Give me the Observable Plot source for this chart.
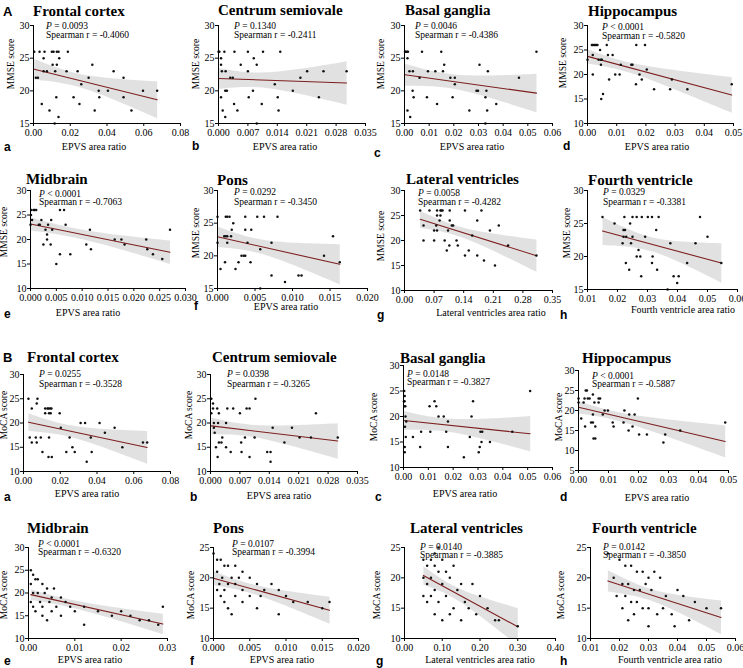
<!DOCTYPE html>
<html><head><meta charset="utf-8">
<script src="https://cdn.jsdelivr.net/npm/d3@7"></script>
<script src="https://cdn.jsdelivr.net/npm/@observablehq/plot@0.6"></script>
<style>
body{margin:0;background:#fff;}
#wrap{position:relative;width:743px;height:668px;overflow:hidden;font-family:"Liberation Serif","Times New Roman",serif;color:#000;}
.t{position:absolute;white-space:nowrap;line-height:1;font-family:"Liberation Serif","Times New Roman",serif;}
.title{font-weight:bold;font-size:15px;transform:translateY(-50%);}
.letter{font-family:"Liberation Sans",Arial,sans-serif;font-weight:bold;font-size:12px;transform:translateY(-50%);}
.big{font-family:"Liberation Sans",Arial,sans-serif;font-weight:bold;font-size:13px;transform:translateY(-50%);}
.stat{font-size:9.5px;transform:translateY(-50%);}
.xl{font-size:10px;transform:translate(-50%,-50%);}
.yl{font-size:9.5px;transform:translate(-50%,-50%) rotate(-90deg);}
</style></head><body><div id="wrap"></div><script>
// ---------- DATA ----------
const regions = ["Frontal cortex","Centrum semiovale","Basal ganglia","Hippocampus","Midbrain","Pons","Lateral ventricles","Fourth ventricle"];
const panelLetters = ["a","b","c","d","e","f","g","h"];
const xTitles = ["EPVS area ratio","EPVS area ratio","EPVS area ratio","EPVS area ratio","EPVS area ratio","EPVS area ratio","Lateral ventricles area ratio","Fourth ventricle area ratio"];
const mmseP = ["P = 0.0093","P = 0.1340","P = 0.0046","P < 0.0001","P < 0.0001","P = 0.0292","P = 0.0058","P = 0.0329"];
const mmseR = ["-0.4060","-0.2411","-0.4386","-0.5820","-0.7063","-0.3450","-0.4282","-0.3381"];
const mocaP = ["P = 0.0255","P = 0.0398","P = 0.0148","P < 0.0001","P < 0.0001","P = 0.0107","P = 0.0140","P = 0.0142"];
const mocaR = ["-0.3528","-0.3265","-0.3827","-0.5887","-0.6320","-0.3994","-0.3885","-0.3850"];

// MMSE panels
const fcMmseX = [0.0004,0.0033,0.006,0.010,0.0109,0.0127,0.0136,0.0187, 0.0055,0.014, 0.0104,0.0127,0.032, 0.0055,0.0073,0.0118,0.018,0.024,0.0436, 0.0013,0.0024,0.030,0.049, 0.026, 0.0355,0.0405,0.0596,0.0673, 0.0124,0.0218,0.0358,0.049, 0.0045,0.025, 0.0087,0.0333,0.0533, 0.0136, 0.0115];
const fcMmseY = [26,26,26,26,26,26,26,26, 25,25, 24,24,24, 23,23,23,23,23,23, 22,22,22,22, 21, 20,20,20,20, 19,19,19,19, 18,18, 17,17,17, 16, 15];
const csMmseX = [0,0.0002,0.0014,0.0038,0.007,0.0106,0.0147, 0.0006,0.0084, 0.0006,0.0053,0.0091, 0.0008,0.0017,0.007,0.0211,0.025,0.0305, 0.0028,0.0034,0.0195, 0.0134, 0.0016,0.002,0.0082,0.0177, 0.0006,0.0072,0.0141,0.0239, 0.0037,0.0103, 0.001,0.0045,0.0143, 0.0016, 0.0091];
const csMmseY = [26,26,26,26,26,26,26, 25,25, 24,24,24, 23,23,23,23,23,23, 22,22,22, 21, 20,20,20,20, 19,19,19,19, 18,18, 17,17,17, 16, 15];
const bgMmseX = [0.0002,0.0005,0.001,0.0014,0.0071,0.0149,0.0535, 0.0012, 0.0161,0.0304, 0.002,0.0034,0.0095,0.0125,0.0156,0.0338, 0.0061,0.0186,0.0204,0.0464, 0.0204, 0.0033,0.0292,0.0298,0.0332, 0.0037,0.0091,0.0195,0.0328, 0.0132,0.0372, 0.0012,0.0263,0.0335, 0.0023, 0.0328];
const bgMmseY = [26,26,26,26,26,26,26, 25, 24,24, 23,23,23,23,23,23, 22,22,22,22, 21, 20,20,20,20, 19,19,19,19, 18,18, 17,17,17, 16, 15];
const hiMmseX = [0.0015,0.0018,0.0023,0.0026,0.003,0.0034,0.0066,0.0167,0.0197, 0.0043, 0.0018,0.007,0.0086, 0.0,0.0038,0.0046,0.0049, 0.0046,0.0114,0.015,0.0154, 0.0203, 0.0018,0.0095,0.011,0.0178, 0.0074,0.0186,0.0289, 0.0166,0.0494, 0.0228,0.0283,0.0342, 0.0053, 0.0047];
const hiMmseY = [26,26,26,26,26,26,26,26,26, 25, 24,24,24, 23,23,23,23, 22,22,22,22, 21, 20,20,20,20, 19,19,19, 18,18, 17,17,17, 16, 15];
const mbMmseX = [0.0002,0.00065,0.0008,0.0011,0.0057,0.0065, 0.0001, 0.0003,0.0021,0.004, 0.0,0.0016,0.0018,0.0034,0.0068, 0.0029,0.0042,0.0115,0.027, 0.0032, 0.0032,0.0163,0.0176,0.0224, 0.0025,0.0039,0.0108,0.0182, 0.0117,0.0226, 0.0057,0.0077,0.0237, 0.0255, 0.005];
const mbMmseY = [26,26,26,26,26,26, 25, 24,24,24, 23,23,23,23,23, 22,22,22,22, 21, 20,20,20,20, 19,19,19,19, 18,18, 17,17,17, 16, 15];
const poMmseX = [0,0.0011,0.0013,0.0016,0.0037,0.0053,0.0062,0.008, 0.0021, 0.0019,0.0037,0.0045, 0.0009,0.0011,0.0013,0.0018,0.0154, 0,0.0013,0.004,0.0072, 0.0057, 0.0032,0.0035,0.0037,0.0142, 0.001,0.0028,0.0044,0.0163, 0.0004,0.0024, 0.0072,0.0108,0.0112, 0.009, 0.0057];
const poMmseY = [26,26,26,26,26,26,26,26, 25, 24,24,24, 23,23,23,23,23, 22,22,22,22, 21, 20,20,20,20, 19,19,19,19, 18,18, 17,17,17, 16, 15];
const lvMmseX = [0.037,0.059,0.077,0.085,0.087,0.09,0.107,0.143,0.182, 0.077,0.085, 0.083,0.107,0.172, 0.045,0.075,0.112,0.115,0.223, 0.07,0.077,0.103,0.202, 0.16, 0.045,0.07,0.095,0.123, 0.106,0.126,0.245, 0.1,0.152, 0.143,0.172,0.312, 0.188, 0.214];
const lvMmseY = [26,26,26,26,26,26,26,26,26, 25,25, 24,24,24, 23,23,23,23,23, 22,22,22,22, 21, 20,20,20,20, 19,19,19, 18,18, 17,17,17, 16, 15];
const fvMmseX = [0.015,0.0223,0.025,0.0264,0.0281,0.0301,0.0315,0.0337,0.0475, 0.019,0.0242, 0.022,0.0225,0.0329, 0.022,0.0229,0.025,0.0292,0.05, 0.0217,0.0245,0.0376,0.046, 0.027, 0.0264,0.0276,0.0317, 0.0228,0.0315,0.0432,0.0546, 0.0239,0.0332, 0.0279,0.0387,0.0404, 0.0399, 0.0367];
const fvMmseY = [26,26,26,26,26,26,26,26,26, 25,25, 24,24,24, 23,23,23,23,23, 22,22,22,22, 21, 20,20,20, 19,19,19,19, 18,18, 17,17,17, 16, 15];

// MoCA panels
const fcMocaX = [0.0027,0.0076, 0.0072, 0.0045,0.0118,0.013,0.0136,0.0145,0.0152, 0.0118,0.0139,0.0148,0.0197, 0.0311,0.0335,0.0414, 0.0203,0.0496, 0.0443, 0.0034,0.0067,0.0094,0.0139,0.0251,0.0366, 0.0045,0.0072,0.065,0.0673, 0.0266,0.0538, 0.0103,0.0233,0.0279,0.0371, 0.0136,0.0154, 0.0344];
const fcMocaY = [25,25, 24, 23,23,23,23,23,23, 22,22,22,22, 20,20,20, 19,19, 18, 17,17,17,17,17,17, 16,16,16,16, 15,15, 14,14,14,14, 13,13, 12];
const csMocaX = [0.0002,0.0107, 0.0006, 0.0006,0.0016,0.004,0.0054,0.0086,0.0093, 0.0002,0.002,0.007,0.0251, 0.0008,0.0018,0.0037, 0.0008,0.0148,0.0194, 0.001, 0.0028,0.0082,0.0105,0.0212,0.0239,0.0303, 0.002,0.0026,0.0073,0.0176, 0.0013,0.0037, 0.0048,0.0074,0.0135,0.0143, 0.0017,0.0093, 0.0143];
const csMocaY = [25,25, 24, 23,23,23,23,23,23, 22,22,22,22, 20,20,20, 19,19,19, 18, 17,17,17,17,17,17, 16,16,16,16, 15,15, 14,14,14,14, 13,13, 12];
const bgMocaX = [0.0003,0.051, 0.0005, 0.0002,0.0004,0.0125,0.028, 0.0004,0.0007,0.0105,0.0132, 0.0008,0.0141,0.0162,0.0274, 0.0011,0.0179, 0.0006, 0.0071,0.0108,0.0172,0.031,0.0317,0.0438, 0.0009,0.0038,0.0267, 0.0314,0.0348, 0.0005,0.0067,0.0179,0.0307, 0.0005,0.0303, 0.0243];
const bgMocaY = [25,25, 24, 23,23,23,23, 22,22,22,22, 20,20,20,20, 19,19, 18, 17,17,17,17,17,17, 16,16,16, 15,15, 14,14,14,14, 13,13, 12];
const hiMocaX = [0.0024,0.0028, 0.0048, 0.0,0.002,0.0031,0.0037,0.0067,0.0072,0.0198, 0.0,0.0017,0.0053,0.0067, 0.0087,0.0098,0.0153, 0.0048,0.0081,0.0169,0.0187, 0.0009, 0.0042,0.0048,0.0114,0.015,0.0489, 0.0022,0.0056,0.0117,0.018, 0.0167,0.0339, 0.0202,0.0228,0.0289, 0.005,0.0056, 0.0283];
const hiMocaY = [25,25, 24, 23,23,23,23,23,23,23, 22,22,22,22, 20,20,20, 19,19,19,19, 18, 17,17,17,17,17, 16,16,16,16, 15,15, 14,14,14, 13,13, 12];
const mbMocaX = [0.0005,0.001,0.0015,0.002,0.0005,0.003,0.004,0.0055,0.001,0.002,0.0035,0.005,0.007,0.0005,0.0025,0.0045,0.008,0.001,0.003,0.006,0.009,0.012,0.0015,0.005,0.01,0.015,0.02,0.003,0.007,0.018,0.022,0.024,0.026,0.028,0.004,0.012,0.029];
const mbMocaY = [25,24,23,23,22,22,21,21,20,20,20,19,19,18,18,18,18,17,17,17,17,17,16,16,16,16,16,15,15,15,15,14,14,13,14,13,17];
const poMocaX = [0,0.0005,0.001,0.0015,0.002,0.003,0.004,0.0005,0.0012,0.0025,0.0035,0.005,0.0008,0.002,0.003,0.006,0.008,0.0005,0.0015,0.004,0.007,0.009,0.001,0.003,0.005,0.0065,0.01,0.0015,0.004,0.011,0.013,0.002,0.006,0.015,0.016,0.0025,0.009];
const poMocaY = [24,23,23,22,22,22,21,21,20,20,20,20,19,19,19,19,19,18,18,18,18,18,17,17,17,17,17,16,16,16,16,15,15,15,16,14,14];
const lvMocaX = [0.05,0.07,0.08,0.09,0.1,0.06,0.08,0.11,0.13,0.05,0.07,0.09,0.12,0.15,0.06,0.08,0.1,0.14,0.18,0.05,0.07,0.11,0.16,0.2,0.06,0.09,0.13,0.17,0.22,0.08,0.12,0.19,0.24,0.1,0.15,0.25,0.3];
const lvMocaY = [23,23,24,25,23,22,22,21,22,20,20,21,20,19,19,18,19,18,19,17,17,17,16,17,16,16,15,15,15,14,14,14,13,13,13,13,12];
const fvMocaX = [0.016,0.02,0.022,0.024,0.026,0.028,0.03,0.032,0.034,0.018,0.021,0.023,0.025,0.027,0.029,0.031,0.036,0.04,0.019,0.022,0.024,0.026,0.03,0.035,0.042,0.046,0.021,0.025,0.028,0.033,0.038,0.044,0.05,0.023,0.03,0.039,0.055];
const fvMocaY = [24,23,22,22,21,21,20,21,20,20,19,19,18,18,19,18,17,18,17,17,16,16,15,15,17,16,15,14,15,14,14,13,15,13,12,12,15];

const mmseX = [fcMmseX,csMmseX,bgMmseX,hiMmseX,mbMmseX,poMmseX,lvMmseX,fvMmseX];
const mmseY = [fcMmseY,csMmseY,bgMmseY,hiMmseY,mbMmseY,poMmseY,lvMmseY,fvMmseY];
const mocaX = [fcMocaX,csMocaX,bgMocaX,hiMocaX,mbMocaX,poMocaX,lvMocaX,fvMocaX];
const mocaY = [fcMocaY,csMocaY,bgMocaY,hiMocaY,mbMocaY,poMocaY,lvMocaY,fvMocaY];

// axis tick values
const xTicksMmse = [
  [0,0.02,0.04,0.06,0.08],[0,0.007,0.014,0.021,0.028,0.035],[0,0.01,0.02,0.03,0.04,0.05,0.06],[0,0.01,0.02,0.03,0.04,0.05],
  [0,0.005,0.01,0.015,0.02,0.025,0.03],[0,0.005,0.01,0.015,0.02],[0,0.07,0.14,0.21,0.28,0.35],[0.01,0.02,0.03,0.04,0.05,0.06]];
const xTicksMoca = [
  [0,0.02,0.04,0.06,0.08],[0,0.007,0.014,0.021,0.028,0.035],[0,0.01,0.02,0.03,0.04,0.05,0.06],[0,0.01,0.02,0.03,0.04,0.05],
  [0,0.01,0.02,0.03],[0,0.005,0.01,0.015,0.02],[0,0.1,0.2,0.3,0.4],[0.01,0.02,0.03,0.04,0.05,0.06]];
const xDigitsMmse = [2,3,2,2,3,3,2,2];
const xDigitsMoca = [2,3,2,2,2,3,2,2];
const yTicksMmse = [[15,20,25,30],[15,20,25,30],[15,20,25,30],[10,15,20,25,30],[10,15,20,25,30],[15,20,25,30],[10,15,20,25,30],[15,20,25,30]];
const yTicksMoca = [[10,15,20,25,30],[10,15,20,25,30],[10,15,20,25,30],[5,10,15,20,25,30],[10,15,20,25,30],[10,15,20,25],[10,15,20,25],[10,15,20,25]];

// ---------- LAYOUT (pixel geometry per panel) ----------
const layoutMmse = [
  {x0:33,x1:180,yt:25,yb:123,tx:33,ty:11,lx:4,ly:147,px:46,py:27,sy:36,xlx:94,xly:147,ylx:12,yly:64},
  {x0:218,x1:365,yt:25,yb:123,tx:218,ty:10,lx:192,ly:146,px:234,py:27,sy:36,xlx:285,xly:147,ylx:197,yly:64},
  {x0:404,x1:552,yt:25,yb:123,tx:405,ty:10,lx:374,ly:153,px:415,py:27,sy:36,xlx:472,xly:147,ylx:382,yly:64},
  {x0:587,x1:733,yt:25,yb:123,tx:588,ty:11,lx:563,ly:146,px:602,py:28,sy:37,xlx:657,xly:147,ylx:564,yly:63},
  {x0:30,x1:185,yt:190,yb:288,tx:26,ty:179,lx:4,ly:314,px:39,py:195,sy:203,xlx:88,xly:313,ylx:5,yly:232},
  {x0:217,x1:367,yt:190,yb:288,tx:217,ty:180,lx:194,ly:306,px:234,py:193,sy:203,xlx:286,xly:307,ylx:197,yly:233},
  {x0:404,x1:552,yt:190,yb:290,tx:406,ty:179,lx:377,ly:315,px:418,py:194,sy:203,xlx:491,xly:313,ylx:382,yly:236},
  {x0:587,x1:737,yt:190,yb:289,tx:588,ty:180,lx:560,ly:315,px:603,py:193,sy:203,xlx:683,xly:310,ylx:568,yly:233}];
const layoutMoca = [
  {x0:23,x1:170,yt:374,yb:471,tx:27,ty:357,lx:4,ly:497,px:39,py:375,sy:385,xlx:87,xly:494,ylx:5,yly:415},
  {x0:210,x1:357,yt:374,yb:471,tx:212,ty:357,lx:190,ly:497,px:227,py:375,sy:385,xlx:279,xly:496,ylx:190,yly:415},
  {x0:403,x1:552,yt:365,yb:467,tx:400,ty:358,lx:375,ly:497,px:407,py:375,sy:383,xlx:465,xly:494,ylx:375,yly:417},
  {x0:578,x1:728,yt:370,yb:470,tx:582,ty:358,lx:560,ly:497,px:592,py:377,sy:385,xlx:657,xly:498,ylx:560,yly:417},
  {x0:28,x1:167,yt:547,yb:638,tx:27,ty:528,lx:4,ly:661,px:38,py:545,sy:553,xlx:90,xly:660,ylx:5,yly:595},
  {x0:213,x1:358,yt:547,yb:638,tx:213,ty:528,lx:190,ly:661,px:232,py:545,sy:553,xlx:282,xly:660,ylx:192,yly:595},
  {x0:404,x1:555,yt:547,yb:638,tx:410,ty:528,lx:376,ly:661,px:420,py:548,sy:556,xlx:480,xly:660,ylx:378,yly:595},
  {x0:590,x1:735,yt:547,yb:638,tx:592,ty:528,lx:560,ly:661,px:603,py:548,sy:556,xlx:670,xly:660,ylx:562,yly:595}];

const wrap = document.getElementById("wrap");
function addText(cls, x, y, html) {
  const d = document.createElement("div");
  d.className = "t " + cls;
  d.style.left = x + "px"; d.style.top = y + "px";
  d.innerHTML = html;
  wrap.appendChild(d);
}

const SERIF = "'Liberation Serif', 'Times New Roman', serif";
function drawPanel(L, xs, ys, xTicks, digits, yTicks, i, pText, rText, yTitle) {
  const mL = 34, mR = 8, mT = 6, mB = 24;
  const data = xs.map((x, k) => ({x, y: ys[k]}));
  const xd = [xTicks[0], xTicks[xTicks.length - 1]];
  const yd = [yTicks[0], yTicks[yTicks.length - 1]];
  const fmt = d3.format("." + digits + "f");
  const svg = Plot.plot({
    width: L.x1 - L.x0 + mL + mR,
    height: L.yb - L.yt + mT + mB,
    marginLeft: mL, marginRight: mR, marginTop: mT, marginBottom: mB,
    style: `background: transparent; overflow: visible; font-family: ${SERIF}; font-size: 10px; color: #000;`,
    x: {domain: xd},
    y: {domain: yd},
    marks: [
      Plot.linearRegressionY(data, {x: "x", y: "y", stroke: "#7d1f1f", strokeWidth: 1.1, fill: "#c8c8c8", fillOpacity: 0.55, clip: true}),
      Plot.dot(data, {x: "x", y: "y", r: 1.25, fill: "#111", stroke: "none"}),
      Plot.ruleY([yd[0]], {stroke: "#000", strokeWidth: 1}),
      Plot.ruleX([xd[0]], {stroke: "#000", strokeWidth: 1}),
      Plot.axisX({ticks: xTicks, tickFormat: fmt, tickSize: 3, tickPadding: 2, label: null, fontFamily: SERIF, fontSize: 10, stroke: "#000", fill: "#000"}),
      Plot.axisY({ticks: yTicks, tickSize: 3, tickPadding: 1, label: null, fontFamily: SERIF, fontSize: 10, stroke: "#000", fill: "#000"})
    ]
  });
  const el = wrap.appendChild(svg);
  el.style.position = "absolute";
  el.style.left = (L.x0 - mL) + "px";
  el.style.top = (L.yt - mT) + "px";
  el.style.maxWidth = "none";
  el.style.margin = "0";
  addText("title", L.tx, L.ty, regions[i]);
  addText("letter", L.lx, L.ly, panelLetters[i]);
  addText("stat", L.px, L.py, pText.replace(/^P/, "<i>P</i>"));
  addText("stat", L.px, L.sy, "Spearman r = " + rText);
  addText("xl", L.xlx, L.xly, xTitles[i]);
  addText("yl", L.ylx, L.yly, yTitle);
}

for (let i = 0; i < 8; i++) {
  drawPanel(layoutMmse[i], mmseX[i], mmseY[i], xTicksMmse[i], xDigitsMmse[i], yTicksMmse[i], i, mmseP[i], mmseR[i], "MMSE score");
  drawPanel(layoutMoca[i], mocaX[i], mocaY[i], xTicksMoca[i], xDigitsMoca[i], yTicksMoca[i], i, mocaP[i], mocaR[i], "MoCA score");
}
addText("big", 3, 11, "A");
addText("big", 3, 357, "B");
</script></body></html>
